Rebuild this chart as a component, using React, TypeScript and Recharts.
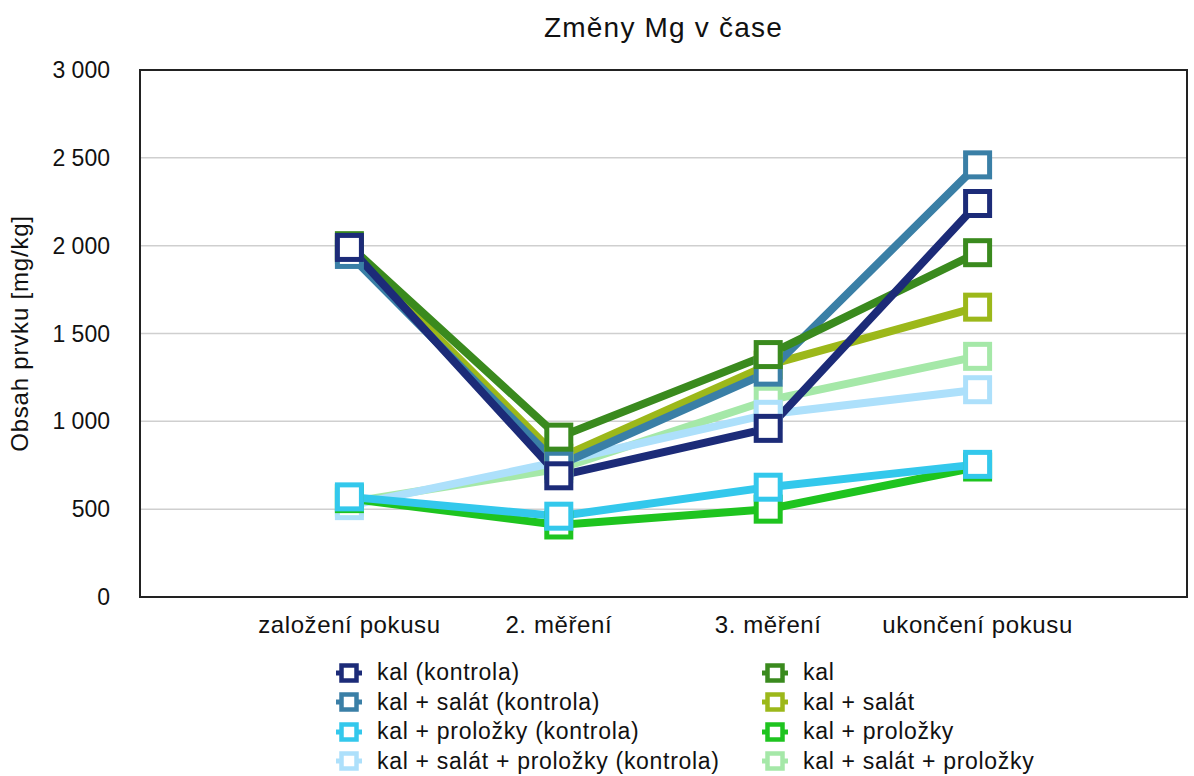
import React from 'react';
import { LineChart, Line, XAxis, YAxis, CartesianGrid, ReferenceArea, Label } from 'recharts';

const categories = ['založení pokusu', '2. měření', '3. měření', 'ukončení pokusu'];
const xPositions = [1, 2, 3, 4];
const yTicks = [0, 500, 1000, 1500, 2000, 2500, 3000];

const kalKontrola = [1990, 690, 960, 2240];
const kalSalatKontrola = [1950, 750, 1280, 2460];
const kalProlozkyKontrola = [570, 460, 625, 755];
const kalSalatProlozkyKontrola = [520, 770, 1040, 1180];
const kal = [2000, 910, 1380, 1960];
const kalSalat = [1980, 790, 1320, 1650];
const kalProlozky = [560, 410, 500, 740];
const kalSalatProlozky = [540, 730, 1120, 1370];

const seriesList = [
  { key: 'k1', name: 'kal (kontrola)', color: '#1c2b78', values: kalKontrola },
  { key: 'k2', name: 'kal + salát (kontrola)', color: '#3a7fa6', values: kalSalatKontrola },
  { key: 'k3', name: 'kal + proložky (kontrola)', color: '#33c8ec', values: kalProlozkyKontrola },
  { key: 'k4', name: 'kal + salát + proložky (kontrola)', color: '#ade0fb', values: kalSalatProlozkyKontrola },
  { key: 's1', name: 'kal', color: '#3a8a1e', values: kal },
  { key: 's2', name: 'kal + salát', color: '#9cb81a', values: kalSalat },
  { key: 's3', name: 'kal + proložky', color: '#1ec41f', values: kalProlozky },
  { key: 's4', name: 'kal + salát + proložky', color: '#a5e8a8', values: kalSalatProlozky },
];

const drawOrder = ['s4', 'k4', 's3', 's2', 'k2', 's1', 'k3', 'k1'];

const data = xPositions.map((x, i) => {
  const row: Record<string, number> = { x };
  seriesList.forEach((s) => {
    row[s.key] = s.values[i];
  });
  return row;
});

const FONT = '"Liberation Sans", Arial, Helvetica, sans-serif';

const SquareDot = (color: string) => (props: any) => {
  const { cx, cy, index } = props;
  if (cx == null || cy == null) return <g key={index} />;
  const s = 24;
  return (
    <rect
      key={index}
      x={cx - s / 2}
      y={cy - s / 2}
      width={s}
      height={s}
      fill="#fff"
      stroke={color}
      strokeWidth={5}
    />
  );
};

const LegendIcon = ({ color }: { color: string }) => (
  <svg width={26} height={22} style={{ display: 'block' }}>
    <line x1={0} y1={11} x2={26} y2={11} stroke={color} strokeWidth={5} />
    <rect x={5.5} y={3.5} width={15} height={15} fill="#fff" stroke={color} strokeWidth={4.5} />
  </svg>
);

export default function App() {
  const col1 = seriesList.slice(0, 4);
  const col2 = seriesList.slice(4);
  return (
    <div style={{ position: 'absolute', left: 0, top: 0, width: 1194, height: 776, background: '#fff', fontFamily: FONT }}>
      <div
        style={{
          position: 'absolute',
          left: 140,
          width: 1047,
          top: 14,
          textAlign: 'center',
          fontSize: 28,
          lineHeight: '28px',
          letterSpacing: 1.2,
          color: '#111',
        }}
      >
        Změny Mg v čase
      </div>
      <LineChart
        width={1194}
        height={776}
        data={data}
        margin={{ top: 70, right: 7, left: 0, bottom: 0 }}
      >
        <CartesianGrid horizontal vertical={false} stroke="#cfcfcf" strokeWidth={1.5} />
        <XAxis
          dataKey="x"
          type="number"
          domain={[0, 5]}
          ticks={xPositions}
          tickFormatter={(v: number) => categories[v - 1] ?? ''}
          height={179}
          tickLine={false}
          axisLine={false}
          tickSize={0}
          tickMargin={19}
          tick={{ fill: '#111', fontSize: 24, fontFamily: FONT, letterSpacing: 0.6 }}
          interval={0}
        />
        <YAxis
          type="number"
          domain={[0, 3000]}
          ticks={yTicks}
          width={140}
          tickLine={false}
          axisLine={false}
          tickSize={0}
          tickMargin={30}
          tickFormatter={(v: number) => v.toLocaleString('en-US').replace(/,/g, ' ')}
          tick={{ fill: '#111', fontSize: 23, fontFamily: FONT }}
        >
          <Label
            value="Obsah prvku [mg/kg]"
            position="center"
            angle={-90}
            dx={-51}
            style={{ fill: '#111', fontSize: 24, fontFamily: FONT, letterSpacing: 0.8 }}
          />
        </YAxis>
        <ReferenceArea x1={0} x2={5} y1={0} y2={3000} fill="none" stroke="#222" strokeWidth={2} ifOverflow="visible" />
        {drawOrder.map((k) => {
          const s = seriesList.find((ss) => ss.key === k)!;
          return (
            <Line
              key={s.key}
              dataKey={s.key}
              name={s.name}
              stroke={s.color}
              strokeWidth={8}
              dot={SquareDot(s.color)}
              activeDot={false}
              isAnimationActive={false}
              strokeLinejoin="miter"
            />
          );
        })}
      </LineChart>
      {[col1, col2].map((col, ci) => (
        <div
          key={ci}
          style={{ position: 'absolute', left: ci === 0 ? 336 : 762, top: 658 }}
        >
          {col.map((s) => (
            <div key={s.key} style={{ display: 'flex', alignItems: 'center', height: 29.5, fontSize: 23, letterSpacing: 0.7, color: '#111', whiteSpace: 'nowrap' }}>
              <LegendIcon color={s.color} />
              <span style={{ marginLeft: 15 }}>{s.name}</span>
            </div>
          ))}
        </div>
      ))}
    </div>
  );
}
